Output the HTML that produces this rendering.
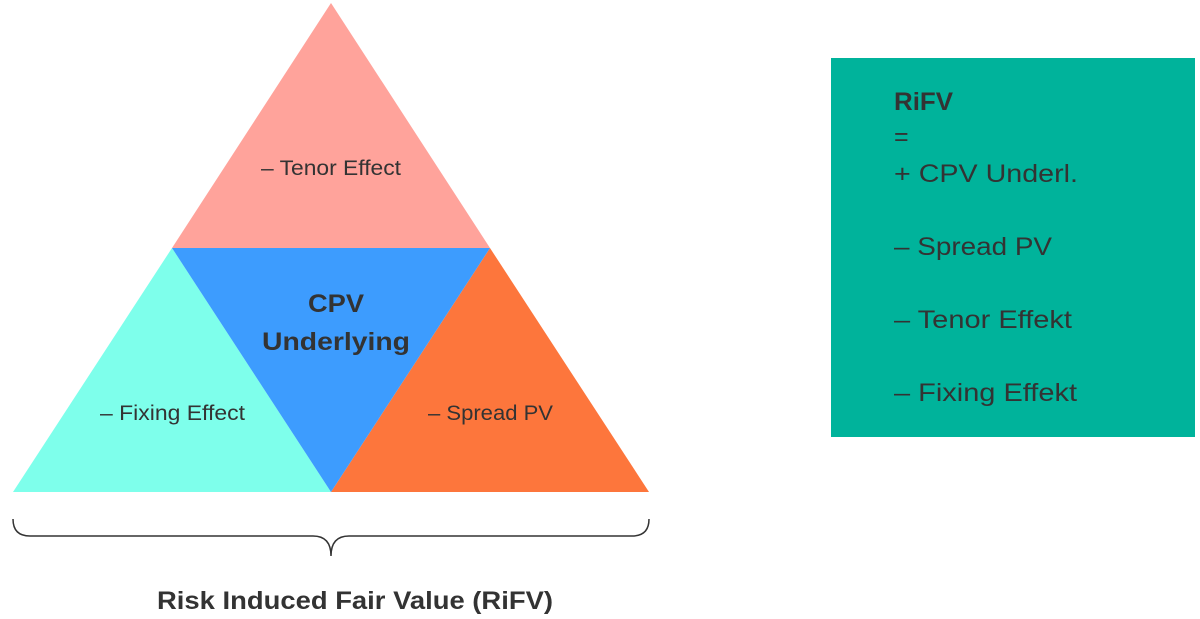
<!DOCTYPE html>
<html><head><style>
body{margin:0;width:1200px;height:619px;background:#fff;overflow:hidden;font-family:"Liberation Sans",sans-serif;}
</style></head><body>
<svg width="1200" height="619" xmlns="http://www.w3.org/2000/svg" style="position:absolute;left:0;top:0">
<polygon points="331,3 490,248 172,248" fill="#FFA39B"/>
<polygon points="172,248 331,492 13,492" fill="#7EFFEB"/>
<polygon points="490,248 649,492 331,492" fill="#FD763C"/>
<polygon points="172,248 490,248 331,492" fill="#3D9CFE"/>
<g font-family="Liberation Sans, sans-serif" fill="#333" font-size="21" lengthAdjust="spacingAndGlyphs">
<text x="261" y="175" textLength="140" lengthAdjust="spacingAndGlyphs">– Tenor Effect</text>
<text x="100" y="420" textLength="145" lengthAdjust="spacingAndGlyphs">– Fixing Effect</text>
<text x="428" y="420" textLength="125" lengthAdjust="spacingAndGlyphs">– Spread PV</text>
<text x="308" y="312" font-weight="bold" font-size="25" textLength="56" lengthAdjust="spacingAndGlyphs">CPV</text>
<text x="262" y="350" font-weight="bold" font-size="25" textLength="148" lengthAdjust="spacingAndGlyphs">Underlying</text>
<text x="157" y="609" font-weight="bold" font-size="25" textLength="396" lengthAdjust="spacingAndGlyphs">Risk Induced Fair Value (RiFV)</text>
</g>
<path d="M13,519 Q13,536 30,536 L313,536 Q331,536 331,556 Q331,536 349,536 L632,536 Q649,536 649,519" fill="none" stroke="#333" stroke-width="1.5"/>
<rect x="831" y="58" width="364" height="379" fill="#00B39B"/>
<g font-family="Liberation Sans, sans-serif" fill="#333" font-size="25">
<text x="894" y="110" font-weight="bold" textLength="59" lengthAdjust="spacingAndGlyphs">RiFV</text>
<text x="894" y="145">=</text>
<text x="894" y="182" textLength="184" lengthAdjust="spacingAndGlyphs">+ CPV Underl.</text>
<text x="894" y="255" textLength="158" lengthAdjust="spacingAndGlyphs">– Spread PV</text>
<text x="894" y="328" textLength="178" lengthAdjust="spacingAndGlyphs">– Tenor Effekt</text>
<text x="894" y="401" textLength="183" lengthAdjust="spacingAndGlyphs">– Fixing Effekt</text>
</g>
</svg>
</body></html>
